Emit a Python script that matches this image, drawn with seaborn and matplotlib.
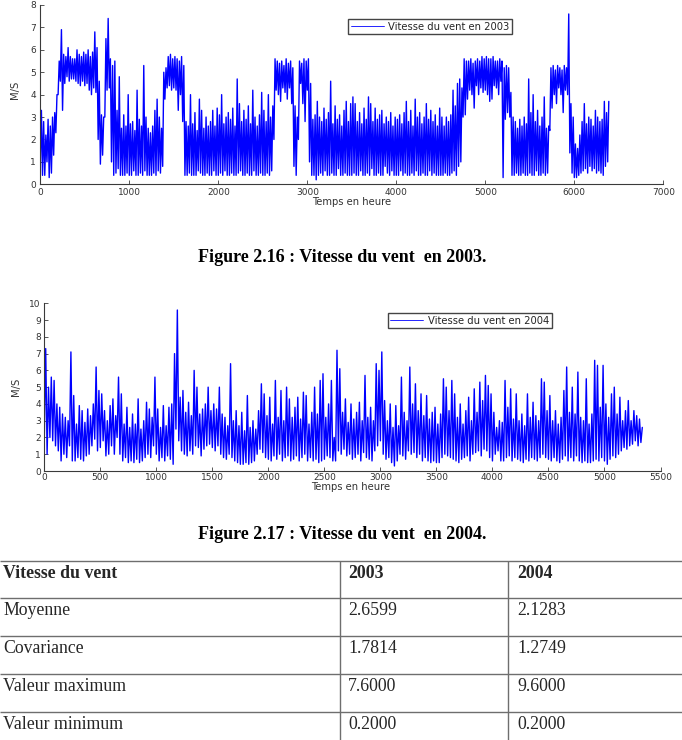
import numpy as np
import pandas as pd
import matplotlib
matplotlib.use("Agg")
import matplotlib.pyplot as plt
import seaborn as sns

# pas de lecture: 25 heures, pour chaque pas on lit le min (lo) et le max (hi)
pas = 25

# vitesse du vent 2003 (0 -> 6375 h)
lo_2003 = [0.9, 0.4, 0.4, 1.0, 0.3, 0.5, 1.3, 2.3, 4.0, 4.6, 3.3, 4.5, 4.8, 4.6, 4.7, 4.7, 4.6, 4.5, 4.4, 4.6,
           4.4, 4.5, 4.2, 4.0, 4.3, 4.1, 2.0, 0.9, 1.3, 3.0, 4.2, 4.3, 1.0, 0.4, 0.5, 0.7, 0.4, 0.4, 0.4, 0.5,
           0.4, 0.4, 0.6, 0.4, 0.4, 0.5, 0.4, 0.6, 0.4, 0.4, 0.4, 0.5, 0.4, 0.6, 0.5, 0.8, 3.8, 4.3, 4.4, 4.2,
           4.3, 4.2, 3.3, 4.0, 2.8, 0.4, 0.4, 0.5, 0.4, 0.4, 0.4, 0.6, 0.5, 0.4, 0.4, 0.5, 0.4, 0.4, 0.6, 0.4,
           0.4, 0.5, 0.4, 0.6, 0.4, 0.4, 0.5, 0.4, 0.4, 0.5, 0.6, 0.4, 0.4, 0.5, 0.4, 0.4, 0.6, 0.4, 0.4, 0.5,
           0.4, 0.4, 0.5, 0.4, 0.6, 2.0, 4.2, 4.0, 3.7, 4.3, 4.1, 3.8, 4.3, 3.6, 0.8, 0.4, 2.0, 4.5, 3.6, 2.8,
           4.2, 1.0, 0.4, 0.4, 0.2, 0.4, 0.5, 0.4, 0.6, 0.4, 0.4, 0.5, 0.4, 0.4, 0.7, 0.4, 0.4, 0.5, 0.4, 0.4,
           0.4, 0.5, 0.4, 0.4, 0.6, 0.4, 0.4, 0.5, 0.4, 0.7, 0.4, 0.4, 0.5, 0.4, 0.4, 0.8, 0.5, 0.4, 0.6, 0.4,
           0.4, 0.4, 0.6, 0.4, 0.5, 0.4, 0.4, 0.5, 0.4, 0.6, 0.4, 0.4, 0.5, 0.4, 0.4, 0.6, 0.4, 0.5, 0.4, 0.4,
           0.4, 0.4, 0.5, 0.4, 0.4, 0.5, 0.6, 0.4, 0.8, 1.0, 3.0, 3.1, 3.8, 4.2, 4.0, 3.4, 4.4, 4.0, 4.3, 4.1,
           4.2, 4.0, 3.7, 3.8, 4.4, 4.3, 4.0, 4.6, 0.3, 2.9, 3.2, 3.0, 0.4, 0.4, 0.5, 0.4, 0.4, 0.5, 0.4, 0.4,
           0.5, 0.4, 0.4, 0.6, 0.4, 0.4, 0.5, 0.4, 0.5, 2.4, 3.4, 4.0, 3.6, 4.3, 4.0, 3.2, 4.2, 4.0, 1.4, 0.5,
           0.3, 0.3, 0.4, 0.5, 0.6, 0.7, 0.5, 0.8, 0.6, 0.7, 0.5, 0.6, 0.5, 0.4, 0.8, 1.0]
hi_2003 = [3.3, 2.8, 2.2, 2.9, 2.6, 3.0, 3.2, 4.0, 5.5, 6.9, 5.8, 5.7, 6.1, 5.7, 5.6, 5.6, 6.0, 5.8, 5.7, 5.9,
           5.8, 6.0, 5.7, 5.9, 6.8, 6.1, 4.6, 3.1, 3.0, 6.5, 7.4, 5.6, 5.3, 5.5, 3.3, 4.8, 2.5, 3.1, 2.6, 4.0,
           2.7, 2.8, 2.4, 4.2, 2.9, 2.6, 5.3, 3.0, 2.5, 2.3, 2.6, 3.3, 3.8, 3.0, 2.5, 5.0, 5.2, 5.7, 5.8, 5.6,
           5.7, 5.6, 5.5, 5.7, 5.3, 2.8, 2.6, 4.0, 2.7, 3.2, 2.4, 3.8, 3.3, 2.5, 3.0, 2.6, 2.8, 3.3, 2.6, 3.4,
           3.1, 4.0, 2.7, 3.0, 3.2, 2.9, 3.4, 2.6, 4.7, 3.6, 2.8, 3.3, 2.9, 3.5, 2.7, 4.2, 3.0, 2.6, 3.1, 4.1,
           3.3, 2.8, 4.0, 3.0, 3.5, 5.6, 5.5, 5.4, 5.5, 5.3, 5.6, 5.4, 5.5, 5.2, 3.5, 3.0, 5.5, 5.4, 5.6, 5.5,
           5.6, 4.5, 2.9, 3.1, 3.7, 3.0, 2.8, 3.4, 2.9, 3.2, 4.6, 2.7, 3.5, 2.9, 3.1, 2.6, 3.3, 3.7, 2.8, 3.6,
           3.9, 3.6, 2.8, 3.2, 2.7, 3.4, 2.9, 3.9, 3.6, 2.8, 3.4, 2.9, 3.1, 3.3, 2.7, 3.0, 2.8, 3.2, 2.6, 3.0,
           2.9, 3.1, 2.7, 3.2, 3.7, 2.8, 3.3, 2.6, 3.8, 3.0, 3.2, 2.7, 3.0, 3.6, 2.9, 3.3, 2.8, 3.1, 2.6, 3.4,
           3.0, 2.6, 3.0, 2.8, 3.1, 4.2, 3.5, 4.5, 4.7, 4.3, 5.6, 5.5, 5.5, 5.6, 5.4, 5.5, 5.6, 5.5, 5.7, 5.6,
           5.7, 5.6, 5.6, 5.7, 5.5, 5.5, 5.6, 5.5, 5.2, 5.3, 5.2, 4.1, 3.0, 2.8, 2.5, 2.9, 2.6, 3.0, 2.7, 4.7,
           3.2, 4.0, 2.8, 3.3, 2.6, 3.0, 3.9, 2.5, 2.6, 5.2, 5.3, 5.1, 5.3, 5.2, 5.1, 5.3, 5.2, 7.6, 3.6, 3.0,
           1.8, 1.6, 2.2, 2.8, 3.6, 2.7, 3.0, 2.9, 2.6, 3.3, 3.0, 2.8, 2.9, 3.7, 3.2, 3.7]

# vitesse du vent 2004 (0 -> 5325 h)
lo_2004 = [2.0, 1.0, 2.0, 1.8, 1.5, 1.2, 0.6, 1.0, 0.8, 1.5, 0.6, 0.6, 0.8, 0.7, 0.6, 0.9, 1.0, 1.5, 1.9, 1.2,
           1.4, 1.8, 0.9, 1.0, 1.5, 1.0, 2.0, 1.0, 0.6, 0.8, 0.5, 0.6, 0.5, 0.7, 0.5, 0.6, 0.8, 1.0, 0.8, 1.5,
           1.0, 0.6, 0.8, 0.6, 0.9, 0.7, 0.4, 2.5, 1.8, 1.2, 1.0, 0.9, 1.2, 1.0, 1.5, 1.4, 0.9, 1.3, 1.5, 1.6,
           1.4, 1.2, 1.5, 1.0, 0.8, 0.7, 1.0, 0.8, 0.6, 0.5, 0.4, 0.4, 0.5, 0.4, 0.5, 0.6, 1.0, 1.3, 1.1, 0.8,
           0.7, 0.6, 0.9, 0.7, 1.0, 0.6, 0.8, 0.9, 0.6, 0.7, 0.9, 0.6, 0.8, 1.0, 0.6, 0.8, 0.6, 0.7, 0.5, 0.6,
           0.7, 0.9, 0.8, 0.6, 0.6, 1.2, 1.0, 1.3, 0.9, 1.0, 0.7, 0.8, 1.0, 0.6, 1.1, 0.8, 0.7, 0.6, 1.2, 1.5,
           1.8, 1.0, 0.7, 0.8, 0.5, 0.3, 0.6, 1.0, 0.9, 0.7, 1.2, 1.0, 1.1, 0.8, 1.0, 0.6, 0.8, 0.6, 0.5, 0.6,
           0.5, 0.5, 0.8, 1.0, 0.9, 0.8, 0.7, 0.6, 0.5, 0.7, 0.8, 0.9, 0.6, 1.0, 1.1, 1.2, 0.9, 1.3, 1.2, 0.8,
           0.6, 1.0, 1.2, 0.6, 0.6, 0.8, 0.9, 0.6, 0.8, 0.7, 0.6, 0.5, 0.7, 0.6, 0.8, 0.7, 0.6, 0.8, 1.0, 0.8,
           0.7, 0.6, 0.8, 0.6, 0.5, 0.7, 0.9, 0.6, 0.8, 0.6, 0.9, 0.6, 0.5, 0.6, 0.5, 0.5, 0.6, 0.7, 0.6, 0.8,
           0.6, 0.4, 0.7, 0.9, 0.8, 1.0, 1.2, 1.4, 1.3, 1.5, 1.6, 1.8, 1.5, 1.7]
hi_2004 = [7.3, 5.0, 5.6, 5.4, 4.0, 3.8, 3.4, 3.2, 3.0, 7.1, 4.5, 2.8, 3.9, 3.6, 2.9, 3.7, 3.3, 4.0, 6.2, 4.8,
           4.6, 3.6, 3.0, 3.9, 4.3, 3.3, 5.6, 4.6, 2.8, 3.8, 2.6, 3.4, 2.8, 4.3, 2.5, 3.0, 4.1, 3.7, 3.2, 5.6,
           3.7, 2.6, 3.9, 2.7, 3.8, 4.0, 7.0, 9.6, 4.4, 4.8, 3.5, 4.1, 3.3, 6.0, 5.0, 3.4, 3.7, 4.0, 5.0, 3.6,
           4.0, 3.7, 5.0, 3.4, 3.2, 2.7, 6.4, 3.0, 3.6, 2.7, 3.5, 2.4, 4.5, 2.6, 3.0, 2.5, 3.6, 5.2, 4.6, 3.3,
           4.4, 2.8, 5.4, 3.2, 4.8, 3.0, 5.0, 4.3, 3.2, 3.8, 4.4, 3.1, 4.7, 4.5, 2.8, 3.5, 5.0, 3.4, 5.4, 5.8,
           3.2, 4.0, 5.4, 2.0, 7.2, 6.1, 3.5, 4.3, 2.9, 4.0, 3.1, 3.5, 4.1, 3.0, 5.7, 3.2, 3.8, 3.0, 6.4, 6.0,
           7.1, 4.2, 3.0, 4.0, 2.6, 3.9, 2.7, 5.6, 3.5, 3.0, 6.2, 4.0, 5.2, 3.6, 4.6, 3.3, 4.5, 3.1, 3.5, 3.8,
           2.8, 3.4, 5.5, 5.0, 3.6, 5.4, 4.6, 3.2, 4.0, 2.8, 3.6, 4.4, 3.0, 4.9, 3.5, 5.3, 4.2, 5.7, 5.1, 4.6,
           3.5, 2.6, 3.0, 2.9, 5.4, 3.8, 4.9, 3.1, 4.6, 3.0, 3.4, 2.7, 4.6, 3.2, 4.1, 3.3, 3.0, 5.5, 5.3, 3.6,
           4.5, 3.0, 3.6, 2.8, 3.2, 4.8, 6.2, 3.5, 5.0, 3.4, 5.9, 3.2, 3.0, 5.5, 2.8, 3.4, 6.6, 6.3, 3.8, 6.3,
           4.0, 3.2, 4.6, 5.0, 3.4, 4.4, 3.0, 3.6, 4.2, 3.0, 3.6, 3.3, 3.1, 2.6]

# tableau des statistiques
lignes_tab = ["Moyenne", "Covariance", "Valeur maximum", "Valeur minimum"]
stats_2003 = ["2.6599", "1.7814", "7.6000", "0.2000"]
stats_2004 = ["2.1283", "1.2749", "9.6000", "0.2000"]


def serie(lo, hi):
    # min puis max de chaque pas, dans l'ordre du temps
    t0 = np.arange(len(lo)) * pas
    t = np.column_stack([t0, t0 + pas / 2]).ravel()
    v = np.column_stack([lo, hi]).ravel()
    return pd.DataFrame({"heure": t, "vitesse": v})


sns.set_style("ticks")
plt.rcParams["font.family"] = ["DejaVu Sans"]

W, H = 682, 740
fig = plt.figure(figsize=(W / 100, H / 100), dpi=100)

# calque de la page (coordonnees en pixels)
page = fig.add_axes([0, 0, 1, 1])
page.set_xlim(0, W)
page.set_ylim(H, 0)
page.axis("off")


def axe_px(g, h, d, b):
    return fig.add_axes([g / W, 1 - b / H, (d - g) / W, (b - h) / H])


def graphe(ax, df, annee, xmax, xpas, ymax, pad_x, pad_y):
    sns.lineplot(data=df, x="heure", y="vitesse", ax=ax, color="#0000ff",
                 linewidth=1.0, estimator=None, sort=False,
                 label="Vitesse du vent en " + annee)
    ax.set_xlim(0, xmax)
    ax.set_ylim(0, ymax)
    ax.set_xticks(np.arange(0, xmax + 1, xpas))
    ax.set_yticks(np.arange(0, ymax + 1, 1))
    ax.set_xlabel("")
    ax.set_ylabel("")
    ax.set_facecolor("none")
    for s in ["top", "right"]:
        ax.spines[s].set_visible(False)
    for s in ["left", "bottom"]:
        ax.spines[s].set_color("#3a3a3a")
        ax.spines[s].set_linewidth(0.8)
    ax.tick_params(direction="in", length=3, width=0.6, color="#3a3a3a",
                   labelsize=6.5, labelcolor="#333333")
    ax.tick_params(axis="x", pad=pad_x)
    ax.tick_params(axis="y", pad=pad_y)


# ---- 2003
ax1 = axe_px(40.3, 5, 663.3, 184.3)
graphe(ax1, serie(lo_2003, hi_2003), "2003", 7000, 1000, 8, 3.0, 3.3)
leg1 = ax1.legend(loc="upper left", bbox_to_anchor=(348 / W, 1 - 19 / H),
                  bbox_transform=fig.transFigure, borderaxespad=0, fancybox=False,
                  edgecolor="#444444", framealpha=1, fontsize=7.2, handlelength=3.3,
                  handletextpad=0.5, borderpad=0.25)
leg1.get_lines()[0].set_linewidth(0.6)
page.text(351.5, 201.7, "Temps en heure", ha="center", va="center", fontsize=7.2, color="#333333")
page.text(15, 90, "M/S", ha="center", va="center", rotation=90, fontsize=7.2, color="#333333")

# ---- 2004
ax2 = axe_px(44.3, 303.3, 660.5, 471)
graphe(ax2, serie(lo_2004, hi_2004), "2004", 5500, 500, 10, 1.5, 2.6)
leg2 = ax2.legend(loc="upper left", bbox_to_anchor=(387.7 / W, 1 - 313.3 / H),
                  bbox_transform=fig.transFigure, borderaxespad=0, fancybox=False,
                  edgecolor="#444444", framealpha=1, fontsize=7.2, handlelength=3.3,
                  handletextpad=0.5, borderpad=0.25)
leg2.get_lines()[0].set_linewidth(0.6)
page.text(351, 486.7, "Temps en heure", ha="center", va="center", fontsize=7.2, color="#333333")
page.text(15.7, 387, "M/S", ha="center", va="center", rotation=90, fontsize=7.2, color="#333333")

# ---- legendes des figures
serif = ["Liberation Serif", "DejaVu Serif"]
page.text(342.5, 261.7, "Figure 2.16 : Vitesse du vent  en 2003.", ha="center", va="baseline",
          fontsize=13, fontweight="bold", family=serif, color="black")
page.text(342.5, 538.7, "Figure 2.17 : Vitesse du vent  en 2004.", ha="center", va="baseline",
          fontsize=13, fontweight="bold", family=serif, color="black")

# ---- tableau
y_lignes = [561, 598, 636, 674, 712]
page.hlines(y_lignes, 0, W, color="#6e6e6e", linewidth=1.0)
page.vlines([340, 508], 561, H, color="#6e6e6e", linewidth=1.0)
page.text(3, y_lignes[0] + 16.7, "Vitesse du vent", va="baseline", fontsize=12.8,
          fontweight="bold", family=serif)
page.text(348, y_lignes[0] + 16.7, "2003", va="baseline", fontsize=12.8, fontweight="bold", family=serif)
page.text(517, y_lignes[0] + 16.7, "2004", va="baseline", fontsize=12.8, fontweight="bold", family=serif)
for i, nom in enumerate(lignes_tab):
    yb = y_lignes[i + 1] + 16.7
    page.text(3, yb, nom, va="baseline", fontsize=12.8, family=serif)
    page.text(348, yb, stats_2003[i], va="baseline", fontsize=12.8, family=serif)
    page.text(517, yb, stats_2004[i], va="baseline", fontsize=12.8, family=serif)

fig.savefig("out.png", dpi=100)
